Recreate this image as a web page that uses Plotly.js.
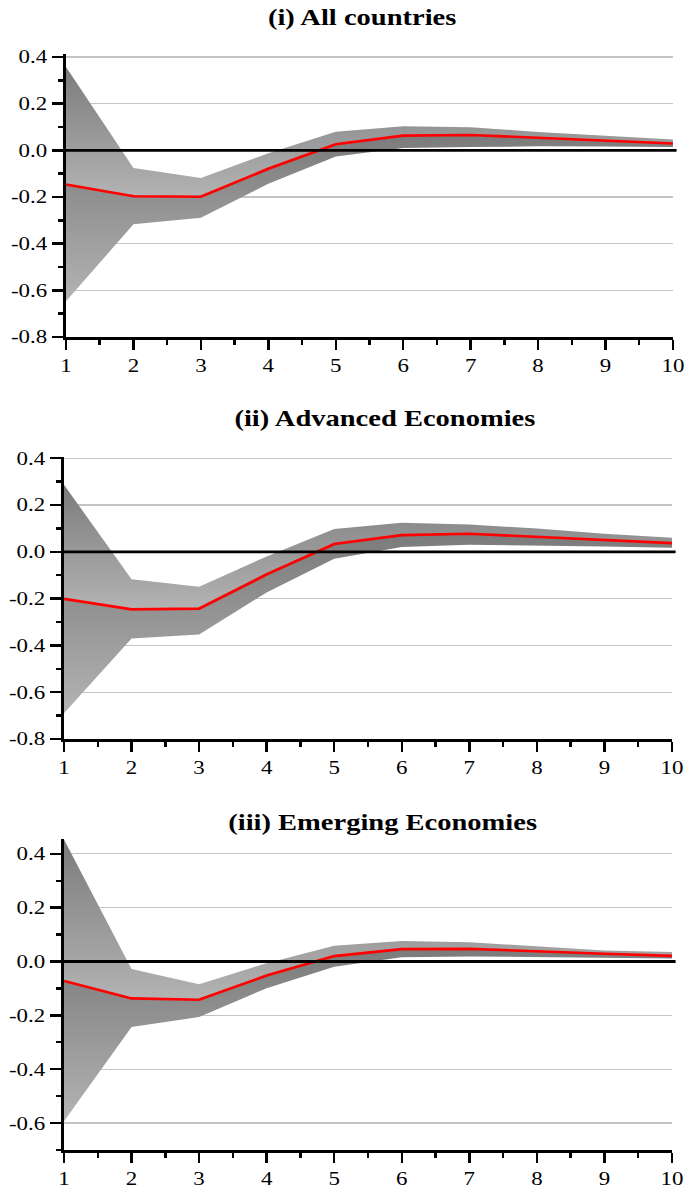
<!DOCTYPE html>
<html>
<head>
<meta charset="utf-8">
<script src="https://cdn.plot.ly/plotly-3.0.1.min.js"></script>
<style>
  html, body { margin: 0; padding: 0; background: #ffffff; overflow: hidden; }
  /* the figure is laid out narrow and widened horizontally, giving the wide serif lettering */
  #chart { transform-origin: 0 0; }
</style>
</head>
<body>
<div id="chart"></div>
<script>
// Horizon (periods after the shock)
const horizon = [1, 2, 3, 4, 5, 6, 7, 8, 9, 10];

// (i) All countries
const allMedian = [-0.146, -0.197, -0.199, -0.079, 0.026, 0.063, 0.066, 0.053, 0.041, 0.029];
const allUpper  = [ 0.357, -0.076, -0.119, -0.012, 0.080, 0.103, 0.099, 0.079, 0.063, 0.046];
const allLower  = [-0.647, -0.317, -0.289, -0.143, -0.026, 0.010, 0.014, 0.017, 0.016, 0.014];

// (ii) Advanced Economies
const advMedian = [-0.201, -0.246, -0.243, -0.097, 0.033, 0.071, 0.077, 0.063, 0.049, 0.037];
const advUpper  = [ 0.286, -0.117, -0.149, -0.020, 0.097, 0.124, 0.117, 0.099, 0.077, 0.060];
const advLower  = [-0.690, -0.371, -0.353, -0.174, -0.030, 0.020, 0.030, 0.027, 0.023, 0.017];

// (iii) Emerging Economies
const emMedian = [-0.072, -0.137, -0.142, -0.052, 0.020, 0.046, 0.047, 0.037, 0.029, 0.021];
const emUpper  = [ 0.453, -0.028, -0.084, -0.006, 0.059, 0.076, 0.072, 0.056, 0.041, 0.035];
const emLower  = [-0.593, -0.243, -0.206, -0.099, -0.019, 0.016, 0.019, 0.016, 0.014, 0.011];

const panelTitles = ['(i) All countries', '(ii) Advanced Economies', '(iii) Emerging Economies'];
const yTickVals = [
  [-0.8, -0.6, -0.4, -0.2, 0.0, 0.2, 0.4],
  [-0.8, -0.6, -0.4, -0.2, 0.0, 0.2, 0.4],
  [-0.6, -0.4, -0.2, 0.0, 0.2, 0.4]
];

const W = 687, H = 1189;
const STRETCH = 1.24;                 // horizontal widening of the whole figure
const PW = Math.round(W / STRETCH);   // plot width before widening
const serif = 'Liberation Serif, Times New Roman, serif';
const bandScale = [[0, '#b3b3b3'], [1, '#7b7b7b']];

const chartDiv = document.getElementById('chart');
chartDiv.style.width = PW + 'px';
chartDiv.style.height = H + 'px';
chartDiv.style.transform = 'scaleX(' + STRETCH + ')';

// Final-page pixel frames for each panel: [left, right, top, bottom], y range, title centre
const frames = [
  { box: [66, 673, 53.5, 337], range: [-0.8, 0.415], titleX: 362, titleY: 18 },
  { box: [64, 672, 457, 739],  range: [-0.8, 0.405], titleX: 385, titleY: 418 },
  { box: [64, 672, 839, 1150], range: [-0.7, 0.455], titleX: 383, titleY: 822 }
];

const panels = [
  { med: allMedian, up: allUpper, lo: allLower },
  { med: advMedian, up: advUpper, lo: advLower },
  { med: emMedian,  up: emUpper,  lo: emLower }
];

const traces = [];
const layout = {
  width: PW, height: H,
  margin: { l: 0, r: 0, t: 0, b: 0 },
  paper_bgcolor: '#ffffff', plot_bgcolor: '#ffffff',
  showlegend: false,
  font: { family: serif, color: '#000000', size: 18.5 },
  annotations: [], shapes: []
};

panels.forEach((p, i) => {
  const n = i === 0 ? '' : String(i + 1);
  const xa = 'x' + n, ya = 'y' + n;
  const f = frames[i];

  // upper band: median -> upper bound
  traces.push({ x: horizon, y: p.med, xaxis: xa, yaxis: ya, mode: 'lines',
    line: { width: 0, color: 'rgba(0,0,0,0)' }, hoverinfo: 'skip' });
  traces.push({ x: horizon, y: p.up, xaxis: xa, yaxis: ya, mode: 'lines',
    line: { width: 0, color: 'rgba(0,0,0,0)' }, fill: 'tonexty',
    fillcolor: '#999999',
    fillgradient: { type: 'vertical', colorscale: bandScale,
      start: Math.min(...p.med), stop: Math.max(...p.up) },
    hoverinfo: 'skip' });

  // lower band: lower bound -> median
  traces.push({ x: horizon, y: p.lo, xaxis: xa, yaxis: ya, mode: 'lines',
    line: { width: 0, color: 'rgba(0,0,0,0)' }, hoverinfo: 'skip' });
  traces.push({ x: horizon, y: p.med, xaxis: xa, yaxis: ya, mode: 'lines',
    line: { width: 0, color: 'rgba(0,0,0,0)' }, fill: 'tonexty',
    fillcolor: '#999999',
    fillgradient: { type: 'vertical', colorscale: bandScale,
      start: Math.min(...p.lo), stop: Math.max(...p.med) },
    hoverinfo: 'skip' });

  // median response
  traces.push({ x: horizon, y: p.med, xaxis: xa, yaxis: ya, mode: 'lines',
    line: { width: 2.6, color: '#ff0000' } });

  const [l, r, t, b] = f.box;
  layout['xaxis' + n] = {
    domain: [l / W, r / W], anchor: ya, range: [1, 10],
    tickmode: 'array', tickvals: horizon, ticktext: horizon.map(String),
    ticks: 'outside', ticklen: 10, tickwidth: 2, tickcolor: '#000000',
    minor: { tickmode: 'linear', tick0: 1.5, dtick: 1, ticks: 'outside', ticklen: 5, tickwidth: 2, tickcolor: '#000000', showgrid: false },
    showline: true, linewidth: 2.6, linecolor: '#000000',
    showgrid: false, zeroline: false, fixedrange: true,
    tickfont: { family: serif, size: 18.5, color: '#000000' }
  };
  layout['yaxis' + n] = {
    domain: [1 - b / H, 1 - t / H], anchor: xa, range: f.range,
    tickmode: 'array', tickvals: yTickVals[i], ticktext: yTickVals[i].map(v => v.toFixed(1)),
    ticks: 'outside', ticklen: 9, tickwidth: 2.4, tickcolor: '#000000',
    minor: { tickmode: 'linear', tick0: 0.1, dtick: 0.2, ticks: 'outside', ticklen: 4, tickwidth: 2.4, tickcolor: '#000000', showgrid: false },
    showline: true, linewidth: 2.4, linecolor: '#000000',
    showgrid: true, gridcolor: '#c4c4c4', gridwidth: 1.2,
    zeroline: false, fixedrange: true,
    tickfont: { family: serif, size: 18.5, color: '#000000' }
  };

  // zero reference line over the bands
  layout.shapes.push({ type: 'line', layer: 'above', xref: xa + ' domain', yref: ya,
    x0: 0, x1: 1.006, y0: 0, y1: 0, line: { color: '#000000', width: 2.8 } });

  layout.annotations.push({
    text: '<b>' + panelTitles[i] + '</b>', xref: 'paper', yref: 'paper',
    x: f.titleX / W, y: 1 - f.titleY / H, xanchor: 'center', yanchor: 'middle',
    showarrow: false, font: { family: serif, size: 23, color: '#000000' }
  });
});

Plotly.newPlot(chartDiv, traces, layout, { displayModeBar: false, staticPlot: true });
</script>
</body>
</html>
